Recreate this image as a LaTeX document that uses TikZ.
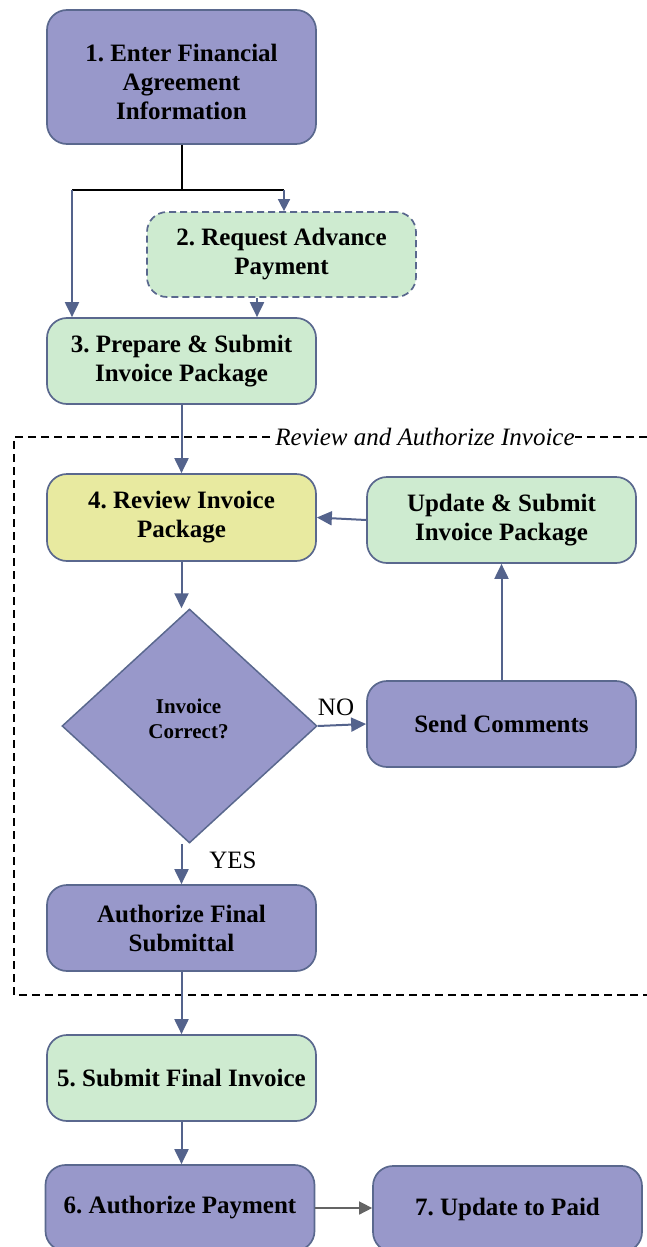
\documentclass[tikz,border=0pt]{standalone}
\usepackage{fontspec}
\setmainfont{Liberation Serif}
\frenchspacing
\usetikzlibrary{shapes.geometric,arrows.meta,calc}
\definecolor{purp}{RGB}{152,152,202}
\definecolor{grn}{RGB}{206,235,208}
\definecolor{yel}{RGB}{232,234,160}
\definecolor{edge}{RGB}{90,104,142}
\definecolor{arr}{RGB}{84,99,140}
\tikzset{
  box/.style={rectangle, rounded corners=20pt, draw=edge, line width=1.7pt, minimum width=269pt, minimum height=86pt, align=center, inner sep=2pt, font=\bfseries\fontsize{25}{29}\selectfont},
  pbox/.style={box, fill=purp},
  gbox/.style={box, fill=grn},
  ybox/.style={box, fill=yel},
  flow/.style={draw=arr, line width=2pt, -{Triangle[length=15pt,width=14pt]}},
  joint/.style={draw=black, line width=1.8pt},
  lbl/.style={font=\fontsize{25}{29}\selectfont, inner sep=0pt},
}
\begin{document}
\begin{tikzpicture}[x=1pt,y=-1pt]
\useasboundingbox (0,0) rectangle (647,1247);
% group frame
\draw[line width=1.6pt, dash pattern=on 8pt off 5pt] (660,437) -- (14,437) -- (14,995) -- (660,995);
\node[fill=white, inner sep=0pt, font=\itshape\fontsize{25}{29}\selectfont] (grp) at (425,437) {Review and Authorize Invoice};
% nodes
\node[pbox, minimum height=134pt] (b1) at (181.5,77) {\rule{0pt}{27pt}1. Enter Financial\\Agreement\\Information};
\node[gbox, dashed, dash pattern=on 7pt off 4pt, minimum height=85pt] (b2) at (281.5,254.5) {2. Request Advance\\Payment};
\node[gbox] (b3) at (181.5,361) {3. Prepare \& Submit\\Invoice Package};
\node[ybox, minimum height=87pt] (b4) at (181.5,517.5) {4. Review Invoice\\Package};
\node[gbox] (upd) at (501.5,520) {Update \& Submit\\Invoice Package};
\node[diamond, draw=edge, line width=1.5pt, fill=purp, minimum width=255pt, minimum height=234pt, inner sep=0pt] (dec) at (189.5,726) {};
\node[align=center, inner sep=0pt, font=\bfseries\fontsize{21}{25}\selectfont] (dectxt) at (188.5,719) {Invoice\\Correct?};
\node[pbox] (snd) at (501.5,724) {Send Comments};
\node[pbox] (auth) at (181.5,928) {Authorize Final\\Submittal};
\node[gbox] (b5) at (181.5,1078) {5. Submit Final Invoice};
\node[pbox] (b6) at (180,1208) {6. Authorize Payment};
\node[pbox] (b7) at (507.5,1209) {7. Update to Paid};
% split
\coordinate (jn) at (182,190);
\coordinate (jl) at (72,190);
\coordinate (jr) at (284,190);
\draw[joint] (b1.south -| jn) -- (jn);
\draw[joint] (jl) -- (jr);
\draw[flow] (jl) -- (jl |- b3.north);
\draw[flow, line width=1.5pt, -{Triangle[length=12pt,width=12pt]}] (jr) -- (jr |- b2.north);
\draw[flow] ([xshift=-24.5pt]b2.south) -- ([xshift=-24.5pt]b2.south |- b3.north);
\draw[flow] (b3.south) -- (b4.north);
\draw[flow] (upd.west) -- (b4.east);
\draw[flow] (b4.south) -- (b4.south |- dec.north);
\draw[flow] (dec.east) -- (snd.west);
\draw[flow] (snd.north) -- (upd.south);
\draw[flow] (b4.south |- dec.south) -- (auth.north);
\draw[flow] (auth.south) -- (b5.north);
\draw[flow] (b5.south) -- (b5.south |- b6.north);
\draw[draw={rgb,255:red,100;green,100;blue,100}, line width=1.5pt, -{Triangle[length=13pt,width=13pt]}] (b6.east) -- (b6.east -| b7.west);
% labels
\node[lbl] (no) at (336,707) {NO};
\node[lbl] (yes) at (233,860) {YES};
\end{tikzpicture}
\end{document}
